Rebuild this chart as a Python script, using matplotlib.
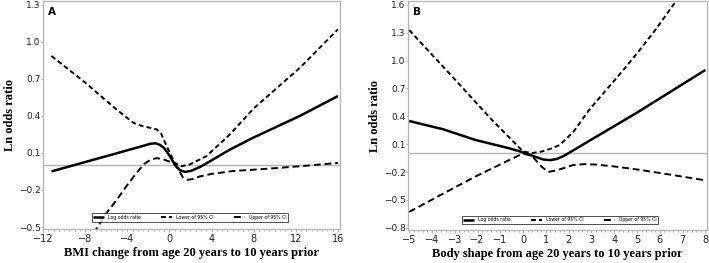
import matplotlib
matplotlib.use("Agg")
import matplotlib.pyplot as plt
from matplotlib.ticker import MultipleLocator

# ---------------- Panel A data ----------------
a_x_est = [-11.2, -8, -5, -2.5, -1.8, -1.3, -0.9, -0.5, 0, 0.5, 1.0, 1.5, 2.1, 3, 5.75, 8, 12.4, 16]
a_y_est = [-0.05, 0.026, 0.097, 0.157, 0.174, 0.178, 0.165, 0.14, 0.08, 0.008, -0.04, -0.054, -0.044, -0.01, 0.127, 0.225, 0.40, 0.56]

a_x_up = [-11.2, -8, -5, -3.4, -2.5, -1.8, -1.2, -0.8, -0.4, 0.05, 0.5, 1.1, 1.9, 3.5, 5.75, 8, 12.4, 16]
a_y_up = [0.885, 0.67, 0.45, 0.343, 0.315, 0.303, 0.29, 0.26, 0.18, 0.10, 0.02, -0.008, 0.005, 0.073, 0.25, 0.46, 0.79, 1.10]

a_x_lo = [-7.2, -6, -5, -4, -3.1, -2.4, -1.8, -1.2, -0.6, 0, 0.4, 0.9, 1.3, 1.7, 2.2, 2.9, 4, 6, 9, 12.4, 16]
a_y_lo = [-0.55, -0.39, -0.28, -0.16, -0.06, 0.01, 0.045, 0.058, 0.048, 0.03, 0.015, -0.04, -0.10, -0.118, -0.112, -0.09, -0.07, -0.047, -0.03, -0.008, 0.019]

a_xticks = [-12, -8, -4, 0, 4, 8, 12, 16]
a_yticks = [-0.5, -0.2, 0.1, 0.4, 0.7, 1.0, 1.3]
a_xlabel = "BMI change from age 20 years to 10 years prior"

# ---------------- Panel B data ----------------
b_x_est = [-5, -3.5, -2.1, -0.6, 0, 0.5, 0.9, 1.2, 1.5, 1.8, 3, 5, 8]
b_y_est = [0.35, 0.26, 0.146, 0.055, 0.012, -0.033, -0.066, -0.072, -0.058, -0.025, 0.15, 0.44, 0.90]

b_x_up = [-5, -3, -1.4, -0.6, 0, 0.4, 0.8, 1.2, 1.6, 2.2, 2.9, 3.6, 4.4, 5.1, 5.8, 6.5, 6.8]
b_y_up = [1.33, 0.80, 0.37, 0.17, 0.02, 0.005, 0.02, 0.05, 0.09, 0.23, 0.47, 0.67, 0.90, 1.11, 1.33, 1.57, 1.67]

b_x_lo = [-5, -3.1, -2.1, -0.6, 0, 0.4, 0.8, 1.1, 1.5, 2.2, 2.7, 3.2, 4, 5.1, 6.5, 8]
b_y_lo = [-0.63, -0.38, -0.25, -0.07, 0.0, -0.03, -0.14, -0.20, -0.18, -0.125, -0.115, -0.12, -0.14, -0.176, -0.23, -0.29]

b_xticks = [-5, -4, -3, -2, -1, 0, 1, 2, 3, 4, 5, 6, 7, 8]
b_yticks = [-0.8, -0.5, -0.2, 0.1, 0.4, 0.7, 1.0, 1.3, 1.6]
b_xlabel = "Body shape from age 20 years to 10 years prior"

labels = ["Log odds ratio", "Lower of 95% CI", "Upper of 95% CI"]
ylabel = "Ln odds ratio"

W, H = 709, 263
fig = plt.figure(figsize=(W / 100, H / 100), dpi=100)

def px_axes(l, t, r, b):
    return fig.add_axes([l / W, 1 - b / H, (r - l) / W, (b - t) / H])

axA = px_axes(43, 1, 340, 229)
axB = px_axes(408, 1, 707, 230)

gray = "#b4b4b4"

def style(ax, xt, yt, xlim, ylim, xlabel, letter, minor):
    ax.axhline(0, color=gray, lw=1.0, zorder=1)
    ax.set_xlim(*xlim)
    ax.set_ylim(*ylim)
    ax.set_xticks(xt)
    ax.set_yticks(yt)
    ax.set_xticklabels([str(v).replace("-", "\u2212") for v in xt],
                       fontsize=7, family="DejaVu Sans", color="#222222")
    ax.set_yticklabels([f"{v:.1f}".replace("-", "\u2212") for v in yt],
                       fontsize=6.5, family="DejaVu Sans", color="#222222")
    ax.xaxis.set_minor_locator(MultipleLocator(minor))
    ax.tick_params(axis="y", which="major", length=1.2, width=0.8, color=gray, pad=0.6)
    ax.tick_params(axis="x", which="major", length=2.0, width=0.8, color=gray, pad=1.5)
    ax.tick_params(axis="x", which="minor", length=1.2, width=0.8, color=gray)
    for s in ax.spines.values():
        s.set_color(gray)
        s.set_linewidth(0.9)
    ax.set_xlabel(xlabel, family="Liberation Serif", fontweight="bold", fontsize=9, labelpad=2)
    ax.set_ylabel(ylabel, family="Liberation Serif", fontweight="bold", fontsize=9, labelpad=2)
    ax.text(0.018, 0.975, letter, transform=ax.transAxes, ha="left", va="top",
            fontsize=7.5, fontweight="bold", family="DejaVu Sans")

def draw(ax, xe, ye, xu, yu, xl, yl, legx, legy):
    l1, = ax.plot(xe, ye, color="black", lw=1.8, solid_capstyle="butt")
    l2, = ax.plot(xu, yu, color="black", lw=1.4, dashes=(2.5, 1.6))
    l3, = ax.plot(xl, yl, color="black", lw=1.4, dashes=(3.5, 2.0))
    leg = ax.legend([l1, l2, l3], labels, loc="center", bbox_to_anchor=(legx, legy),
                    ncol=3, fontsize=3.3, frameon=True, fancybox=False,
                    edgecolor="black", handlelength=2.4, columnspacing=4.5,
                    borderpad=0.35, handletextpad=0.8)
    leg.get_frame().set_linewidth(0.6)

draw(axA, a_x_est, a_y_est, a_x_up, a_y_up, a_x_lo, a_y_lo, 0.495, 0.05)
style(axA, a_xticks, a_yticks, (-12, 16.2), (-0.516, 1.33), a_xlabel, "A", 0.5)

draw(axB, b_x_est, b_y_est, b_x_up, b_y_up, b_x_lo, b_y_lo, 0.508, 0.045)
style(axB, b_xticks, b_yticks, (-5.05, 8.07), (-0.825, 1.643), b_xlabel, "B", 0.2)

fig.savefig("out.png", dpi=100)
